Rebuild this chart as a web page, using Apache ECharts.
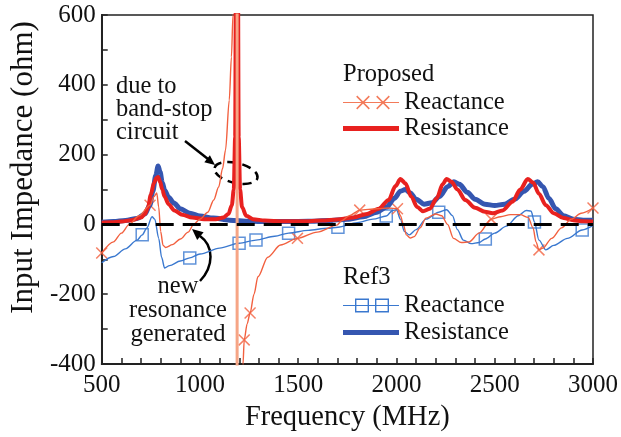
<!DOCTYPE html>
<html><head><meta charset="utf-8">
<script src="https://cdn.jsdelivr.net/npm/echarts@6/dist/echarts.min.js"></script>
<style>html,body{margin:0;padding:0;background:#fff}#c{width:621px;height:437px}</style>
</head><body><div id="c"></div>
<script>
// ---------- data ----------
// Proposed: resistance
const pResF = [500,550,600,650,700,720,735,750,765,778,787,797,808,820,840,870,910,960,1020,1080,1120,1145,1162,1172,1179,1184,1192,1197,1204,1214,1235,1270,1330,1420,1520,1620,1700,1780,1850,1910,1960,1995,2020,2045,2075,2105,2135,2170,2205,2235,2255,2280,2310,2350,2400,2450,2490,2540,2590,2630,2668,2695,2725,2760,2800,2850,2900,2950,3000];
const pResV = [5,6,8,12,20,30,48,85,118,133,136,122,100,80,58,40,28,20,15,15,20,30,55,100,250,900,900,250,100,50,25,15,11,9,9,11,14,20,30,45,70,110,130,118,80,50,38,45,75,115,130,122,100,70,48,36,32,40,65,100,130,120,88,55,32,18,12,9,8];
// Proposed: reactance (branch below the band-stop pole, and above it)
const pXaF = [500,560,600,640,690,746,767,780,790,800,812,825,860,900,940,968,1000,1040,1070,1095,1115,1130,1149,1160,1168,1176];
const pXaV = [-82,-50,-25,0,25,55,80,90,50,-20,-60,-66,-58,-42,-22,0,15,35,70,107,160,213,356,480,600,900];
const pXbF = [1212,1219,1225,1240,1255,1275,1295,1345,1410,1496,1597,1697,1720,1760,1813,1900,1960,2005,2020,2035,2050,2070,2090,2120,2150,2200,2230,2260,2290,2330,2370,2420,2482,2530,2580,2630,2670,2695,2710,2725,2745,2790,2840,2890,2940,3000];
const pXbV = [-550,-400,-331,-285,-254,-200,-150,-94,-59,-40,-22,-2,10,25,41,45,47,45,25,0,-30,-39,-35,-10,18,30,25,0,-40,-52,-50,-25,15,22,28,28,20,-10,-50,-73,-68,-40,-10,15,32,47];
const pPoleF = [1189,1189];
const pPoleV = [700,-500];
const pMarkF = [500,746,1225,1255,1496,1813,2005,2482,2725,3000];
const pMarkV = [-82,55,-331,-254,-40,41,45,15,-73,47];
// Ref3: resistance
const rResF = [500,560,620,680,720,745,760,775,787,797,808,820,840,867,900,948,1000,1068,1150,1250,1350,1450,1550,1650,1750,1830,1900,1950,1990,2020,2045,2070,2100,2140,2180,2220,2260,2292,2320,2360,2400,2450,2500,2550,2600,2650,2690,2718,2745,2775,2810,2850,2900,2950,3000];
const rResV = [6,8,11,17,30,55,95,140,167,150,120,98,78,61,45,32,24,18,12,9,8,8,9,11,15,22,35,50,75,95,100,90,72,58,62,80,108,122,115,92,72,58,54,58,72,95,115,122,108,75,45,25,15,12,12];
// Ref3: reactance
const rXF = [500,560,620,680,706,730,756,770,790,805,820,845,900,948,1000,1100,1199,1285,1380,1451,1550,1650,1702,1800,1880,1948,1980,2000,2020,2040,2065,2100,2150,2215,2255,2285,2310,2340,2380,2420,2452,2500,2560,2620,2660,2685,2702,2725,2760,2800,2870,2945,3000];
const rXV = [-110,-92,-70,-45,-30,-10,22,15,-40,-95,-125,-118,-105,-96,-85,-68,-54,-45,-34,-25,-17,-11,-8,5,15,24,40,42,15,-20,-30,-15,15,35,42,25,-15,-45,-55,-52,-42,-25,-5,25,40,38,7,-45,-73,-60,-40,-16,-3];
const rMarkF = [706,948,1199,1285,1451,1702,1948,2215,2452,2702,2945];
const rMarkV = [-30,-96,-54,-45,-25,-8,24,35,-42,7,-16];
const zeroF = [500,3000];
const zeroV = [0,0];
const xTicks = {min:500, max:3000, step:500};
const yTicks = {min:-400, max:600, step:200};

// ---------- helpers ----------
const zip = (a,b) => a.map((v,i)=>[v,b[i]]);
const FONT = "'Liberation Serif','Times New Roman',serif";
const C_RED = '#e8211f', C_ORG = '#f2603f', C_BLUE = '#3556b0', C_LBLUE = '#3a78cf';

function poly(pts, sign){
  let a=0; for(let i=0;i<pts.length;i++){const p=pts[i],q=pts[(i+1)%pts.length];a+=p[0]*q[1]-q[0]*p[1];}
  if((a>0)!==(sign>0)) pts=pts.slice().reverse();
  return 'M'+pts.map(p=>p[0].toFixed(2)+' '+p[1].toFixed(2)).join(' L')+' Z';
}
function bar(x1,y1,x2,y2,w){
  const dx=x2-x1,dy=y2-y1,L=Math.hypot(dx,dy),px=-dy/L*w/2,py=dx/L*w/2;
  return poly([[x1+px,y1+py],[x2+px,y2+py],[x2-px,y2-py],[x1-px,y1-py]],1);
}
const W=56,H=14;
const lineRect = poly([[0,6.4],[W,6.4],[W,7.6],[0,7.6]],1);
function xMark(cx){ return bar(cx-6.3,0.6,cx+6.3,13.4,1.5)+' '+bar(cx+6.3,0.6,cx-6.3,13.4,1.5); }
function sqMark(cx){ const s=7,t=1.4; return poly([[cx-s,0],[cx+s,0],[cx+s,14],[cx-s,14]],1)+' '+poly([[cx-s+t,t],[cx+s-t,t],[cx+s-t,14-t],[cx-s+t,14-t]],-1); }
const iconPX = 'path://'+lineRect+' '+xMark(20)+' '+xMark(40);
const iconRX = 'path://'+lineRect+' '+sqMark(19)+' '+sqMark(39);
const xSym = 'path://'+bar(0.5,0.5,11.5,11.5,1.5)+' '+bar(11.5,0.5,0.5,11.5,1.5);

const TXT = 24.5;
const legTxt = {fontSize:TXT, fontFamily:FONT, color:'#111', lineHeight:25};
function leg(name, label, top, icon, color, ih){
  return {left:343, top:top, padding:0, itemWidth:W, itemHeight:ih, itemGap:0, selectedMode:false,
    textStyle:legTxt, formatter:()=>label,
    data:[{name:name, icon:icon, itemStyle:{color:color, borderWidth:0}}]};
}

const chart = echarts.init(document.getElementById('c'), null, {renderer:'canvas'});
chart.setOption({
  animation:false,
  backgroundColor:'#ffffff',
  grid:{left:99,right:25,top:15,bottom:73,show:true,borderColor:'#222',borderWidth:1.5},
  xAxis:{type:'value',min:xTicks.min,max:xTicks.max,interval:xTicks.step,
    axisLine:{onZero:false,lineStyle:{color:'#222',width:2}},
    axisTick:{inside:true,length:6,lineStyle:{color:'#222',width:1.5}},
    minorTick:{show:true,splitNumber:5,length:6,lineStyle:{color:'#222',width:1.5}},
    splitLine:{show:false},minorSplitLine:{show:false},
    axisLabel:{fontSize:25,color:'#111',fontFamily:FONT,margin:9,formatter:v=>String(v)},
    name:'Frequency (MHz)',nameLocation:'middle',nameGap:37,
    nameTextStyle:{fontSize:28.5,color:'#111',fontFamily:FONT}},
  yAxis:{type:'value',min:yTicks.min,max:yTicks.max,interval:yTicks.step,
    axisLine:{onZero:false,lineStyle:{color:'#222',width:2}},
    axisTick:{inside:true,length:6,lineStyle:{color:'#222',width:1.5}},
    minorTick:{show:true,splitNumber:2,length:6,lineStyle:{color:'#222',width:1.5}},
    splitLine:{show:false},minorSplitLine:{show:false},
    axisLabel:{fontSize:25,color:'#111',fontFamily:FONT,margin:6,formatter:v=>String(v)},
    name:'Input Impedance (ohm)',nameLocation:'middle',nameGap:58,
    nameTextStyle:{fontSize:31,color:'#111',fontFamily:FONT,padding:[0,0,0,44]}},
  legend:[
    leg('P-Reactance','Reactance',90,iconPX,'#f37a5a',14),
    leg('P-Resistance','Resistance',116,'rect',C_RED,5),
    leg('R-Reactance','Reactance',293,iconRX,C_LBLUE,14),
    leg('R-Resistance','Resistance',320,'rect',C_BLUE,5)
  ],
  graphic:[
    {type:'text',left:343,top:62,style:{text:'Proposed',font:TXT+'px '+FONT,fill:'#111'}},
    {type:'text',left:343,top:265,style:{text:'Ref3',font:TXT+'px '+FONT,fill:'#111'}},
    {type:'text',x:116,y:75,style:{text:'due to\nband-stop\ncircuit',font:TXT+'px '+FONT,fill:'#111',lineHeight:23,textAlign:'left'}},
    {type:'text',x:178,y:275,style:{text:'new\nresonance\ngenerated',font:TXT+'px '+FONT,fill:'#111',lineHeight:24,textAlign:'center'}},
    {type:'line',shape:{x1:185,y1:141,x2:208,y2:159},style:{stroke:'#000',lineWidth:2.5}},
    {type:'polygon',shape:{points:[[215,165],[204.3,162.3],[209.9,155.3]]},style:{fill:'#000'}},
    {type:'ellipse',shape:{cx:236,cy:173,rx:22,ry:10},rotation:-0.23,originX:236,originY:173,
      style:{stroke:'#000',lineWidth:2.5,fill:null,lineDash:[9,6]}},
    {type:'bezierCurve',shape:{x1:200,y1:281,cpx1:214,cpy1:266,cpx2:214,cpy2:246,x2:200,y2:236},style:{stroke:'#000',lineWidth:2.5,fill:null}},
    {type:'polygon',shape:{points:[[192,229],[203.6,232.3],[197.2,239.9]]},style:{fill:'#000'}}
  ],
  series:[
    {name:'R-Resistance',type:'line',data:zip(rResF,rResV),showSymbol:false,smooth:0.3,smoothMonotone:'x',
      lineStyle:{color:C_BLUE,width:5},itemStyle:{color:C_BLUE},clip:true},
    {name:'P-Resistance',type:'line',data:zip(pResF,pResV),showSymbol:false,smooth:0.3,smoothMonotone:'x',
      lineStyle:{color:C_RED,width:4},itemStyle:{color:C_RED},clip:true},
    {name:'R-Reactance',type:'line',data:zip(rXF,rXV),showSymbol:false,smooth:0.3,smoothMonotone:'x',
      lineStyle:{color:C_LBLUE,width:1.4},itemStyle:{color:C_LBLUE},clip:true},
    {name:'R-Reactance',type:'scatter',data:zip(rMarkF,rMarkV),symbol:'rect',symbolSize:12,
      itemStyle:{color:'rgba(0,0,0,0)',borderColor:C_LBLUE,borderWidth:1.5}},
    {name:'P-Reactance',type:'line',data:zip(pPoleF,pPoleV),showSymbol:false,
      lineStyle:{color:'#f6a585',width:3},itemStyle:{color:'#f6a585'},clip:true},
    {name:'P-Reactance',type:'line',data:zip(pXaF,pXaV),showSymbol:false,smooth:0.3,smoothMonotone:'x',
      lineStyle:{color:C_ORG,width:1.4},itemStyle:{color:C_ORG},clip:true},
    {name:'P-Reactance',type:'line',data:zip(pXbF,pXbV),showSymbol:false,smooth:0.3,smoothMonotone:'x',
      lineStyle:{color:C_ORG,width:1.4},itemStyle:{color:C_ORG},clip:true},
    {name:'P-Reactance',type:'scatter',data:zip(pMarkF,pMarkV),symbol:xSym,symbolSize:12,
      itemStyle:{color:C_ORG}},
    {name:'zero',type:'line',data:zip(zeroF,zeroV),showSymbol:false,
      lineStyle:{color:'#000',width:3,type:[18,9]},z:5}
  ]
});
</script></body></html>
